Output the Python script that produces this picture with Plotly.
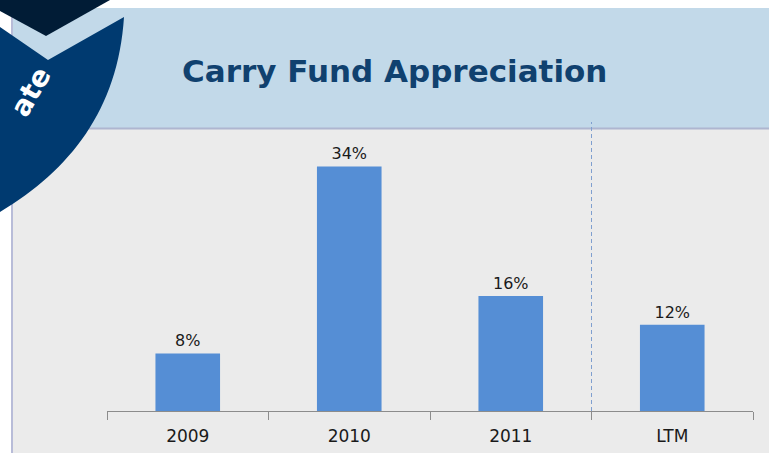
import plotly.graph_objects as go

categories = ["2009", "2010", "2011", "LTM"]
values = [8, 34, 16, 12]
title_text = "Carry Fund Appreciation"
corner_text = "ate"

W, H = 769, 453

def px(x):
    return x / W

def py(y):
    return (H - y) / H

def P(x, y):
    return f"{px(x)},{py(y)}"

fig = go.Figure(go.Bar(
    x=categories, y=values,
    marker=dict(color="#558ed5", line=dict(width=0)),
    texttemplate="%{y}%", textposition="outside",
    textfont=dict(size=16, color="#1a1a1a", family="DejaVu Sans"),
    cliponaxis=False,
))

shapes = []
# gray panel
shapes.append(dict(type="rect", xref="paper", yref="paper", x0=px(12), x1=1.0, y0=0, y1=py(128),
                   fillcolor="#ebebeb", line=dict(width=0), layer="below"))
# title band
shapes.append(dict(type="rect", xref="paper", yref="paper", x0=px(12), x1=1.0, y0=py(128), y1=py(8),
                   fillcolor="#c2d9e9", line=dict(width=0), layer="below"))
# band bottom line
shapes.append(dict(type="line", xref="paper", yref="paper", x0=px(12), x1=1.0, y0=py(128.5), y1=py(128.5),
                   line=dict(color="#aeb6d0", width=2), layer="below"))
# left border
shapes.append(dict(type="line", xref="paper", yref="paper", x0=px(12), x1=px(12), y0=0, y1=py(8),
                   line=dict(color="#b8bcd8", width=2), layer="below"))
# dashed separator
shapes.append(dict(type="line", xref="x", yref="paper", x0=2.5, x1=2.5, y0=py(411), y1=py(122),
                   line=dict(color="#7f9fcf", width=1, dash="4px,3px")))

# corner decoration
navy = f"M {P(0,0)} L {P(110,0)} L {P(46,36)} L {P(0,11)} Z"
shapes.append(dict(type="path", xref="paper", yref="paper", path=navy,
                   fillcolor="#011c36", line=dict(width=0)))
shield = (f"M {P(0,27)} L {P(48,60)} L {P(124,17)} "
          f"C {P(118,110)} {P(70,170)} {P(0,212)} Z")
shapes.append(dict(type="path", xref="paper", yref="paper", path=shield,
                   fillcolor="#003a70", line=dict(width=0)))

annotations = [
    dict(text=f"<b>{title_text}</b>", xref="paper", yref="paper", x=px(180), y=py(71),
         xanchor="left", yanchor="middle", showarrow=False,
         font=dict(size=31, color="#10416f", family="DejaVu Sans")),
    dict(text=f"<b>{corner_text}</b>", xref="paper", yref="paper", x=px(30), y=py(92),
         xanchor="center", yanchor="middle", showarrow=False, textangle=-60,
         font=dict(size=28, color="#ffffff", family="DejaVu Sans")),
]

fig.update_layout(
    width=W, height=H,
    margin=dict(l=0, r=0, t=0, b=0),
    paper_bgcolor="#ffffff",
    plot_bgcolor="rgba(0,0,0,0)",
    showlegend=False,
    bargap=0.6,
    shapes=shapes,
    annotations=annotations,
    xaxis=dict(domain=[px(107), px(753)], showline=True, linecolor="#8c8c8c", linewidth=1,
               ticks="outside", tickson="boundaries", ticklen=8, tickcolor="#8c8c8c",
               ticklabelstandoff=10,
               tickfont=dict(size=17, color="#1a1a1a", family="DejaVu Sans"),
               showgrid=False, zeroline=False),
    yaxis=dict(domain=[py(411), py(129)], range=[0, 39.2], visible=False,
               showgrid=False, zeroline=False),
)

fig.write_html("out.html", config={"displayModeBar": False},
               post_script="document.body.style.margin='0';document.body.style.padding='0';")
